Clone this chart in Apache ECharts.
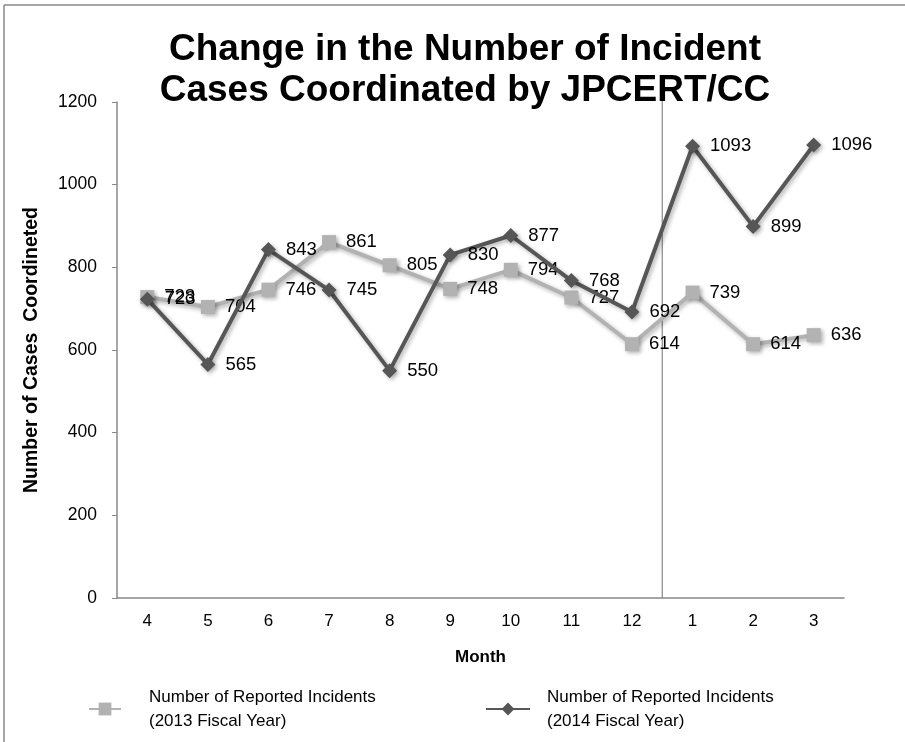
<!DOCTYPE html>
<html><head><meta charset="utf-8">
<script src="https://cdn.jsdelivr.net/npm/echarts@6/dist/echarts.min.js"></script>
<style>html,body{margin:0;padding:0;background:#fff}#c{width:905px;height:742px}</style>
</head><body><div id="c"></div>
<script>
var months = ['4','5','6','7','8','9','10','11','12','1','2','3'];
var fy2013 = [728, 704, 746, 861, 805, 748, 794, 727, 614, 739, 614, 636];
var fy2014 = [723, 565, 843, 745, 550, 830, 877, 768, 692, 1093, 899, 1096];
var yTicks = [0, 200, 400, 600, 800, 1000, 1200];
var name2013 = 'Number of Reported Incidents\n(2013 Fiscal Year)';
var name2014 = 'Number of Reported Incidents\n(2014 Fiscal Year)';
var fiscalSplit = ['12', '1'];

var chart = echarts.init(document.getElementById('c'));
var F = 'Liberation Sans, Arial, sans-serif';
var lbl = {show: true, position: 'right', distance: 10, color: '#000', fontSize: 18.5, fontFamily: F};
var shadow = {shadowColor: 'rgba(0,0,0,0.3)', shadowBlur: 4, shadowOffsetX: 2, shadowOffsetY: 2};
chart.setOption({
  animation: false,
  title: {
    text: 'Change in the Number of Incident\nCases Coordinated by JPCERT/CC',
    left: 460, textAlign: 'center', top: 24,
    textStyle: {fontFamily: F, fontWeight: 'bold', fontSize: 37, color: '#000', lineHeight: 41}
  },
  legend: [
    {data: [name2013], left: 83, top: 680, itemWidth: 32, itemHeight: 16,
     textStyle: {fontFamily: F, fontSize: 17, color: '#000', lineHeight: 24, padding: [0, 0, 0, 23]}},
    {data: [name2014], left: 480, top: 680, itemWidth: 44, itemHeight: 16,
     textStyle: {fontFamily: F, fontSize: 17, color: '#000', lineHeight: 24, padding: [0, 0, 0, 12]}}
  ],
  grid: {left: 117, right: 61, top: 102, bottom: 144},
  xAxis: {
    type: 'category', data: months, boundaryGap: true,
    name: 'Month', nameLocation: 'middle', nameGap: 51,
    nameTextStyle: {fontFamily: F, fontWeight: 'bold', fontSize: 17, color: '#000'},
    axisLine: {lineStyle: {color: '#888', width: 1.5}},
    axisTick: {show: false},
    axisLabel: {fontFamily: F, fontSize: 17, color: '#000', margin: 15}
  },
  yAxis: {
    type: 'value', min: 0, max: 1200, interval: 200,
    name: 'Number of Cases  Coordineted', nameLocation: 'middle', nameGap: 75,
    nameTextStyle: {fontFamily: F, fontWeight: 'bold', fontSize: 19.5, color: '#000'},
    axisLine: {show: true, lineStyle: {color: '#888', width: 1.5}},
    axisTick: {show: true, inside: false, length: 5, lineStyle: {color: '#888'}},
    splitLine: {show: false},
    axisLabel: {fontFamily: F, fontSize: 17.5, color: '#000', margin: 20,
      formatter: function (v) { return yTicks.indexOf(v) >= 0 ? String(v) : ''; }}
  },
  series: [
    {
      name: name2013, type: 'line', data: fy2013, z: 2,
      symbol: 'rect', symbolSize: 14,
      lineStyle: Object.assign({color: '#b2b2b2', width: 4}, shadow),
      itemStyle: Object.assign({color: '#b2b2b2'}, shadow),
      label: lbl
    },
    {
      name: name2014, type: 'line', data: fy2014, z: 3,
      symbol: 'diamond', symbolSize: 15,
      lineStyle: Object.assign({color: '#565656', width: 4}, shadow),
      itemStyle: Object.assign({color: '#565656'}, shadow),
      label: lbl
    }
  ]
});

var xa = chart.convertToPixel({xAxisIndex: 0}, fiscalSplit[0]);
var xb = chart.convertToPixel({xAxisIndex: 0}, fiscalSplit[1]);
var xm = (xa + xb) / 2;
var yTop = chart.convertToPixel({yAxisIndex: 0}, 1200) - 4;
var yBot = chart.convertToPixel({yAxisIndex: 0}, 0);
chart.setOption({
  graphic: [
    {type: 'line', shape: {x1: 4, y1: 5, x2: 905, y2: 5}, style: {stroke: '#888', lineWidth: 1.5}},
    {type: 'line', shape: {x1: 4, y1: 5, x2: 4, y2: 742}, style: {stroke: '#888', lineWidth: 1.5}},
    {type: 'line', z: 1, shape: {x1: xm, y1: yTop, x2: xm, y2: yBot}, style: {stroke: '#888', lineWidth: 1.2}}
  ]
});
</script></body></html>
